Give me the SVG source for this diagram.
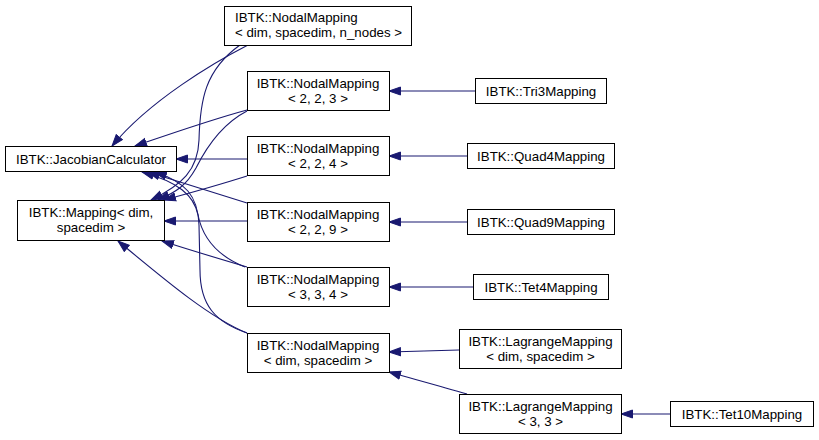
<svg xmlns="http://www.w3.org/2000/svg" width="819" height="440" viewBox="0 0 819 440">
<style>
.box{fill:#fff;stroke:#000;stroke-width:1}
text{font-family:"Liberation Sans",Arial,Helvetica,sans-serif;font-size:13.3px;fill:#000}
.c{text-anchor:middle}
.e{fill:none;stroke:#191970;stroke-width:1.1;marker-end:url(#ah)}
</style>
<defs>
<marker id="ah" markerUnits="userSpaceOnUse" markerWidth="13" markerHeight="10" refX="12" refY="4.5" orient="auto" viewBox="0 0 13 9">
<path d="M0.5,0.5 L12,4.5 L0.5,8.5 z" fill="#191970" stroke="#191970" stroke-width="1"/>
</marker>
</defs>
<rect width="819" height="440" fill="#fff"/>
<g id="connectors">
<path class="e" d="M248,45 C215,62 150,100 112,146"/>
<path class="e" d="M247,110 C210,120 170,134 135,146"/>
<path class="e" d="M247,159 L176,159"/>
<path class="e" d="M247,203 C215,193 180,182 148,172"/>
<path class="e" d="M245,267 C215,255 202,235 198,215 C194,195 178,182 142,172"/>
<path class="e" d="M247,333 C215,322 200,305 200,270 L199,225 C198,195 185,182 155,172"/>
<path class="e" d="M240,45 C205,70 200,100 199,140 C198,170 182,185 151,200"/>
<path class="e" d="M247,111 C220,125 205,150 196,168 C186,186 176,192 158,200"/>
<path class="e" d="M247,176 C225,183 190,193 164,200"/>
<path class="e" d="M247,221 L164,221"/>
<path class="e" d="M247,267 C220,259 190,250 162,241"/>
<path class="e" d="M247,333 C210,318 165,280 118,241"/>
<path class="e" d="M475,91 L389,91"/>
<path class="e" d="M467,156 L389,156"/>
<path class="e" d="M467,222 L389,222"/>
<path class="e" d="M473,287 L389,287"/>
<path class="e" d="M459,350 L389,352"/>
<path class="e" d="M467,394 C440,386 410,378 389,372"/>
<path class="e" d="M670,414 L621,414"/>
</g>
<g id="node-nodalmapping-generic">
<rect class="box" x="224.5" y="6.5" width="187" height="39"/>
<text x="235" y="22">IBTK::NodalMapping</text>
<text x="235" y="37">&lt; dim, spacedim, n_nodes &gt;</text>
</g>
<g id="node-nodalmapping-223">
<rect class="box" x="247.5" y="71.5" width="142" height="39"/>
<text class="c" x="318" y="87.5">IBTK::NodalMapping</text>
<text class="c" x="318" y="102.5">&lt; 2, 2, 3 &gt;</text>
</g>
<g id="node-nodalmapping-224">
<rect class="box" x="247.5" y="136.5" width="142" height="39"/>
<text class="c" x="318" y="152.5">IBTK::NodalMapping</text>
<text class="c" x="318" y="167.5">&lt; 2, 2, 4 &gt;</text>
</g>
<g id="node-nodalmapping-229">
<rect class="box" x="247.5" y="202.5" width="142" height="39"/>
<text class="c" x="318" y="218.5">IBTK::NodalMapping</text>
<text class="c" x="318" y="233.5">&lt; 2, 2, 9 &gt;</text>
</g>
<g id="node-nodalmapping-334">
<rect class="box" x="247.5" y="267.5" width="142" height="39"/>
<text class="c" x="318" y="283.5">IBTK::NodalMapping</text>
<text class="c" x="318" y="298.5">&lt; 3, 3, 4 &gt;</text>
</g>
<g id="node-nodalmapping-dim">
<rect class="box" x="247.5" y="333.5" width="142" height="39"/>
<text class="c" x="318" y="349.5">IBTK::NodalMapping</text>
<text class="c" x="318" y="364.5">&lt; dim, spacedim &gt;</text>
</g>
<g id="node-jacobian">
<rect class="box" x="5.5" y="146.5" width="171" height="25"/>
<text class="c" x="91" y="163.5">IBTK::JacobianCalculator</text>
</g>
<g id="node-mapping">
<rect class="box" x="17.5" y="200.5" width="147" height="40"/>
<text class="c" x="91" y="216.5">IBTK::Mapping&lt; dim,</text>
<text class="c" x="91" y="231.5">spacedim &gt;</text>
</g>
<g id="node-tri3">
<rect class="box" x="475.5" y="78.5" width="131" height="25"/>
<text class="c" x="541" y="95.5">IBTK::Tri3Mapping</text>
</g>
<g id="node-quad4">
<rect class="box" x="467.5" y="143.5" width="147" height="25"/>
<text class="c" x="541" y="160.5">IBTK::Quad4Mapping</text>
</g>
<g id="node-quad9">
<rect class="box" x="467.5" y="209.5" width="147" height="25"/>
<text class="c" x="541" y="226.5">IBTK::Quad9Mapping</text>
</g>
<g id="node-tet4">
<rect class="box" x="473.5" y="274.5" width="135" height="25"/>
<text class="c" x="541" y="291.5">IBTK::Tet4Mapping</text>
</g>
<g id="node-lagrange-dim">
<rect class="box" x="459.5" y="329.5" width="162" height="39"/>
<text class="c" x="540.5" y="345.5">IBTK::LagrangeMapping</text>
<text class="c" x="540.5" y="360.5">&lt; dim, spacedim &gt;</text>
</g>
<g id="node-lagrange-33">
<rect class="box" x="459.5" y="394.5" width="162" height="39"/>
<text class="c" x="540.5" y="410.5">IBTK::LagrangeMapping</text>
<text class="c" x="540.5" y="425.5">&lt; 3, 3 &gt;</text>
</g>
<g id="node-tet10">
<rect class="box" x="670.5" y="401.5" width="143" height="25"/>
<text class="c" x="742" y="418.5">IBTK::Tet10Mapping</text>
</g>
</svg>
